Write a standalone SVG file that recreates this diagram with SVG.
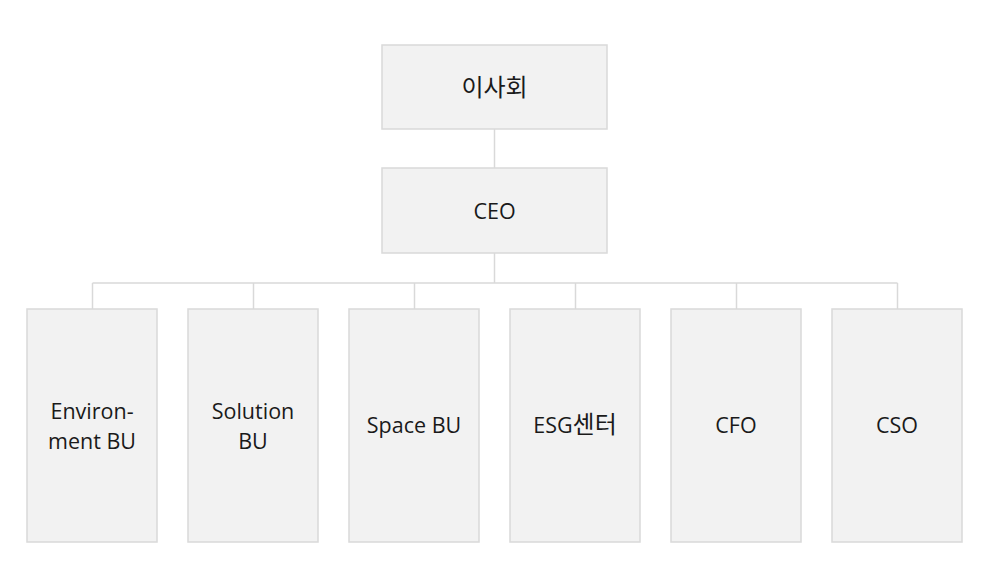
<svg xmlns="http://www.w3.org/2000/svg" width="995" height="578" viewBox="0 0 995 578">
<style>
.box{fill:#f2f2f2;stroke:#d9d9d9;stroke-width:1.5}
.ln{fill:none;stroke:#d9d9d9;stroke-width:1.5}
text{font-family:"Open Sans","Noto Sans CJK KR",sans-serif;font-size:21.5px;fill:#1a1a1a;text-anchor:middle}
.ko{font-family:"Noto Sans CJK KR",sans-serif;font-size:24px}
</style>
<rect width="995" height="578" fill="#ffffff"/>
<g id="connectors">
<path class="ln" d="M494.5 129V168M494.5 253V283M92.5 283H897.5M92.5 283V309M253.5 283V309M414.5 283V309M575.5 283V309M736.5 283V309M897.5 283V309"/>
</g>
<g id="board"><rect class="box" x="382" y="45" width="225" height="84"/><text class="ko" x="494.5" y="96">이사회</text></g>
<g id="ceo"><rect class="box" x="382" y="168" width="225" height="85"/><text x="494.5" y="219">CEO</text></g>
<g id="env"><rect class="box" x="27" y="309" width="130" height="233"/><text x="92" y="419">Environ-</text><text x="92" y="448.5">ment BU</text></g>
<g id="sol"><rect class="box" x="188" y="309" width="130" height="233"/><text x="253" y="419">Solution</text><text x="253" y="448.5">BU</text></g>
<g id="space"><rect class="box" x="349" y="309" width="130" height="233"/><text x="414" y="433">Space BU</text></g>
<g id="esg"><rect class="box" x="510" y="309" width="130" height="233"/><text x="575" y="433">ESG<tspan class="ko">센터</tspan></text></g>
<g id="cfo"><rect class="box" x="671" y="309" width="130" height="233"/><text x="736" y="433">CFO</text></g>
<g id="cso"><rect class="box" x="832" y="309" width="130" height="233"/><text x="897" y="433">CSO</text></g>
</svg>
